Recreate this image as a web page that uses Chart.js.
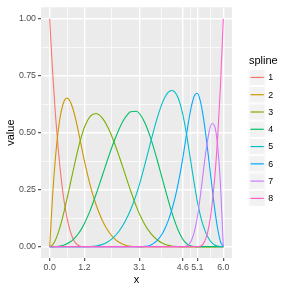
<!DOCTYPE html>
<html><head><meta charset="utf-8">
<script src="https://cdn.jsdelivr.net/npm/chart.js@4/dist/chart.umd.min.js"></script>
<style>html,body{margin:0;padding:0;background:#fff;}canvas{display:block;}</style>
</head><body>
<canvas id="c" width="288" height="288"></canvas>
<script>
const xs = [0,0.1,0.2,0.3,0.4,0.5,0.6,0.7,0.8,0.9,1.0,1.1,
  1.2,1.4,1.6,1.8,2.0,2.2,2.4,2.6,2.8,3.0,
  3.1,3.3,3.5,3.7,3.9,4.0,4.1,4.2,4.3,4.4,4.5,
  4.6,4.7,4.8,4.9,5.0,
  5.1,5.2,5.3,5.4,5.5,5.6,5.7,5.8,5.9,6.0];

const spline1 = [1,0.7703,0.5787,0.4219,0.2963,0.1985,0.125,0.0723,0.037,0.0156,0.0046,0.0006,
  0,0,0,0,0,0,0,0,0,0,
  0,0,0,0,0,0,0,0,0,0,
  0,0,0,0,0,0,0,0,0,0,
  0,0,0,0,0,0];
const spline2 = [0,0.2220,0.3915,0.5139,0.5946,0.6387,0.6518,0.6391,0.6059,0.5577,0.4996,0.4372,
  0.3757,0.2691,0.1848,0.1203,0.0729,0.0399,0.0188,0.0068,0.0015,0.0001,
  0,0,0,0,0,0,0,0,0,0,
  0,0,0,0,0,0,0,0,0,0,
  0,0,0,0,0,0];
const spline3 = [0,0.0077,0.0293,0.0626,0.1054,0.1555,0.2106,0.2685,0.3271,0.3841,0.4373,0.4844,
  0.5234,0.5716,0.5841,0.5667,0.5256,0.4668,0.3963,0.3200,0.2441,0.1744,
  0.1439,0.0936,0.0567,0.0311,0.0146,0.0092,0.0053,0.0027,0.0012,0.0003,0,
  0,0,0,0,0,0,0,0,0,0,
  0,0,0,0,0];
const spline4 = [0,0.0001,0.0005,0.0016,0.0037,0.0073,0.0126,0.0200,0.0299,0.0426,0.0584,0.0778,
  0.1010,0.1590,0.2286,0.3044,0.3811,0.4536,0.5164,0.5642,0.5919,0.5940,
  0.5839,0.5402,0.4716,0.3866,0.2939,0.2474,0.2021,0.1591,0.1195,0.0845,0.0550,
  0.0321,0.0164,0.0069,0.0021,0.0003,
  0,0,0,0,0,0,0,0,0,0];
const spline5 = [0,0,0,0,0,0,0,0,0,0,0,0,
  0,0.0003,0.0025,0.0086,0.0203,0.0397,0.0686,0.1089,0.1626,0.2315,
  0.2722,0.3653,0.4643,0.5575,0.6326,0.6596,0.6777,0.6852,0.6807,0.6627,0.6296,
  0.5800,0.5137,0.4360,0.3533,0.2723,
  0.1995,0.1401,0.0939,0.0591,0.0342,0.0175,0.0074,0.0022,0.0003,0];
const spline6 = [0,0,0,0,0,0,0,0,0,0,0,0,
  0,0,0,0,0,0,0,0,0,0,
  0,0.0009,0.0074,0.0248,0.0589,0.0838,0.1149,0.1530,0.1986,0.2525,0.3154,
  0.3879,0.4688,0.5489,0.6171,0.6621,
  0.6729,0.6419,0.5759,0.4851,0.3799,0.2707,0.1678,0.0815,0.0221,0];
const spline7 = [0,0,0,0,0,0,0,0,0,0,0,0,
  0,0,0,0,0,0,0,0,0,0,
  0,0,0,0,0,0,0,0,0,0,0,
  0,0.0010,0.0082,0.0276,0.0653,
  0.1276,0.2166,0.3193,0.4187,0.4981,0.5403,0.5285,0.4458,0.2753,0];
const spline8 = [0,0,0,0,0,0,0,0,0,0,0,0,
  0,0,0,0,0,0,0,0,0,0,
  0,0,0,0,0,0,0,0,0,0,0,
  0,0,0,0,0,
  0,0.0014,0.0110,0.0370,0.0878,0.1715,0.2963,0.4705,0.7023,1];

const splineNames = ['1','2','3','4','5','6','7','8'];
const splineValues = [spline1,spline2,spline3,spline4,spline5,spline6,spline7,spline8];
const colors = ['#F8766D','#CD9600','#7CAE00','#00BE67','#00BFC4','#00A9FF','#C77CFF','#FF61CC'];

const xBreaks = [0, 1.2, 3.1, 4.6, 5.1, 6.0];
const xLabels = ['0.0','1.2','3.1','4.6','5.1','6.0'];
const yBreaks = [0, 0.25, 0.5, 0.75, 1];
const yLabels = ['0.00','0.25','0.50','0.75','1.00'];

const FONT = '"Liberation Sans", Arial, Helvetica, sans-serif';
Chart.defaults.font.family = FONT;

function mids(arr){ const m=[]; for(let i=0;i<arr.length-1;i++) m.push((arr[i]+arr[i+1])/2); return m; }
function idxOf(arr, v){ for(let i=0;i<arr.length;i++){ if(Math.abs(arr[i]-v)<1e-9) return i; } return -1; }

const datasets = splineValues.map((vals, i) => ({
  label: splineNames[i],
  data: xs.map((x, j) => ({x: x, y: vals[j]})),
  borderColor: colors[i],
  backgroundColor: colors[i],
  borderWidth: 1.1,
  pointRadius: 0,
  fill: false,
  cubicInterpolationMode: 'monotone',
  order: splineNames.length - i
}));

const panelBg = {
  id: 'panelBg',
  beforeDraw(chart){
    const a = chart.chartArea, ctx = chart.ctx;
    ctx.save();
    ctx.fillStyle = '#EBEBEB';
    ctx.fillRect(a.left, a.top, a.right - a.left, a.bottom - a.top);
    ctx.restore();
  }
};

const ggLegend = {
  id: 'ggLegend',
  afterDraw(chart){
    const ctx = chart.ctx;
    const x0 = 248.5, top = 68.8, size = 17.28;
    ctx.save();
    ctx.fillStyle = '#000';
    ctx.font = '11px ' + FONT;
    ctx.textBaseline = 'alphabetic';
    ctx.textAlign = 'left';
    ctx.fillText('spline', 249, 64);
    chart.data.datasets.forEach((ds, i) => {
      const y = top + i * size;
      ctx.fillStyle = '#F2F2F2';
      ctx.fillRect(x0, y, size, size);
      ctx.strokeStyle = '#FFFFFF';
      ctx.lineWidth = 1;
      ctx.strokeRect(x0 + 0.5, y + 0.5, size - 1, size - 1);
      ctx.strokeStyle = ds.borderColor;
      ctx.lineWidth = 1.2;
      ctx.beginPath();
      ctx.moveTo(x0 + 2, y + size / 2);
      ctx.lineTo(x0 + size - 2, y + size / 2);
      ctx.stroke();
      ctx.fillStyle = '#000';
      ctx.font = '8.8px ' + FONT;
      ctx.textBaseline = 'middle';
      ctx.fillText(ds.label, x0 + size + 2.5, y + size / 2 + 0.5);
    });
    ctx.restore();
  }
};

function gridOpts(breaks){
  return {
    color: '#FFFFFF',
    lineWidth: c => (c.tick && idxOf(breaks, c.tick.value) >= 0) ? 1.4 : 0.7,
    tickColor: c => (c.tick && idxOf(breaks, c.tick.value) >= 0) ? '#333333' : 'rgba(0,0,0,0)',
    tickWidth: 1,
    tickLength: 3,
    drawTicks: true,
    drawOnChartArea: true
  };
}

new Chart(document.getElementById('c'), {
  type: 'line',
  data: { datasets },
  plugins: [panelBg, ggLegend],
  options: {
    responsive: false,
    animation: false,
    events: [],
    layout: { padding: { top: 5, right: 56, left: 0, bottom: 0 } },
    plugins: { legend: { display: false }, tooltip: { enabled: false } },
    scales: {
      x: {
        type: 'linear',
        min: -0.3, max: 6.3,
        afterBuildTicks: s => { s.ticks = xBreaks.concat(mids(xBreaks)).sort((a,b)=>a-b).map(v => ({value: v})); },
        afterFit: s => { s.height = 30; },
        ticks: {
          autoSkip: false, maxRotation: 0, minRotation: 0,
          padding: 1,
          color: '#4D4D4D',
          font: { size: 8.8 },
          callback: v => { const k = idxOf(xBreaks, v); return k >= 0 ? xLabels[k] : ''; }
        },
        grid: gridOpts(xBreaks),
        border: { display: false },
        title: { display: true, text: 'x', color: '#000', font: { size: 11 }, padding: { top: 0, bottom: 1 } }
      },
      y: {
        type: 'linear',
        min: -0.05, max: 1.05,
        afterBuildTicks: s => { s.ticks = yBreaks.concat(mids(yBreaks)).sort((a,b)=>a-b).map(v => ({value: v})); },
        afterFit: s => { s.width = 41; },
        ticks: {
          autoSkip: false,
          padding: 2,
          color: '#4D4D4D',
          font: { size: 8.8 },
          callback: v => { const k = idxOf(yBreaks, v); return k >= 0 ? yLabels[k] : ''; }
        },
        grid: gridOpts(yBreaks),
        border: { display: false },
        title: { display: true, text: 'value', color: '#000', font: { size: 11 }, padding: { top: 4, bottom: 0 } }
      }
    }
  }
});
</script>
</body></html>
